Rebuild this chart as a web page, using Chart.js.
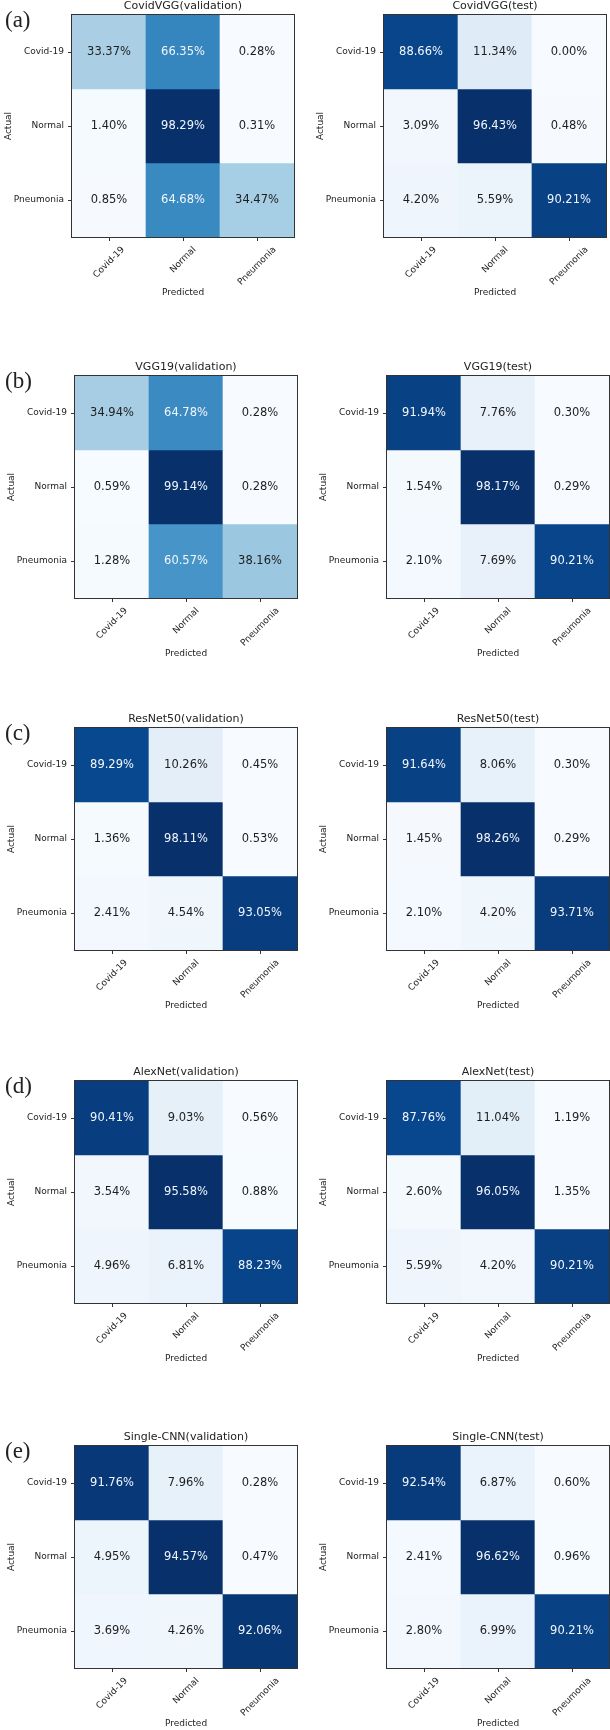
<!DOCTYPE html>
<html>
<head>
<meta charset="utf-8">
<script src="https://cdn.jsdelivr.net/npm/chart.js@4.4.0/dist/chart.umd.min.js"></script>
<style>
  html, body { margin: 0; padding: 0; background: #fff; overflow: hidden; }
  #wrap { position: relative; width: 610px; height: 1730px; }
  canvas { position: absolute; }
</style>
</head>
<body>
<div id="wrap"></div>
<script>
// class labels (actual rows / predicted columns)
const categories = ['Covid-19', 'Normal', 'Pneumonia'];

// confusion matrices in percent, rows = actual, cols = predicted
const covidvggVal  = [[33.37, 66.35, 0.28], [1.40, 98.29, 0.31], [0.85, 64.68, 34.47]];
const covidvggTest = [[88.66, 11.34, 0.00], [3.09, 96.43, 0.48], [4.20, 5.59, 90.21]];
const vgg19Val     = [[34.94, 64.78, 0.28], [0.59, 99.14, 0.28], [1.28, 60.57, 38.16]];
const vgg19Test    = [[91.94, 7.76, 0.30], [1.54, 98.17, 0.29], [2.10, 7.69, 90.21]];
const resnetVal    = [[89.29, 10.26, 0.45], [1.36, 98.11, 0.53], [2.41, 4.54, 93.05]];
const resnetTest   = [[91.64, 8.06, 0.30], [1.45, 98.26, 0.29], [2.10, 4.20, 93.71]];
const alexVal      = [[90.41, 9.03, 0.56], [3.54, 95.58, 0.88], [4.96, 6.81, 88.23]];
const alexTest     = [[87.76, 11.04, 1.19], [2.60, 96.05, 1.35], [5.59, 4.20, 90.21]];
const cnnVal       = [[91.76, 7.96, 0.28], [4.95, 94.57, 0.47], [3.69, 4.26, 92.06]];
const cnnTest      = [[92.54, 6.87, 0.60], [2.41, 96.62, 0.96], [2.80, 6.99, 90.21]];

const panels = [
  { title: 'CovidVGG(validation)', cm: covidvggVal, row: 0, col: 0, letter: '(a)' },
  { title: 'CovidVGG(test)', cm: covidvggTest, row: 0, col: 1 },
  { title: 'VGG19(validation)', cm: vgg19Val, row: 1, col: 0, letter: '(b)' },
  { title: 'VGG19(test)', cm: vgg19Test, row: 1, col: 1 },
  { title: 'ResNet50(validation)', cm: resnetVal, row: 2, col: 0, letter: '(c)' },
  { title: 'ResNet50(test)', cm: resnetTest, row: 2, col: 1 },
  { title: 'AlexNet(validation)', cm: alexVal, row: 3, col: 0, letter: '(d)' },
  { title: 'AlexNet(test)', cm: alexTest, row: 3, col: 1 },
  { title: 'Single-CNN(validation)', cm: cnnVal, row: 4, col: 0, letter: '(e)' },
  { title: 'Single-CNN(test)', cm: cnnTest, row: 4, col: 1 }
];

// layout of the grid of panels
const boxTops = [15, 376, 728, 1081, 1446];
const boxLefts = [[72, 384], [75, 387], [75, 387], [75, 387], [75, 387]];
const BOX = 222, CW = 305, CH = 306;

// matplotlib "Blues"
const bluesStops = [
  [247, 251, 255], [222, 235, 247], [198, 219, 239], [158, 202, 225], [107, 174, 214],
  [66, 146, 198], [33, 113, 181], [8, 81, 156], [8, 48, 107]
];
function blues(t) {
  t = Math.max(0, Math.min(1, t)) * 8;
  const i = Math.min(7, Math.floor(t)), f = t - i;
  const a = bluesStops[i], b = bluesStops[i + 1];
  const c = a.map((v, k) => Math.round(v + (b[k] - v) * f));
  return `rgb(${c[0]},${c[1]},${c[2]})`;
}

const FONT = 'DejaVu Sans';

const cmPlugin = {
  id: 'cm',
  afterDatasetsDraw(chart, args, opts) {
    const ctx = chart.ctx;
    ctx.save();
    ctx.font = `11.5px "${FONT}"`;
    ctx.textAlign = 'center';
    ctx.textBaseline = 'middle';
    chart.data.datasets.forEach((ds, r) => {
      chart.getDatasetMeta(r).data.forEach((bar, c) => {
        const v = ds.pct[c];
        ctx.fillStyle = v >= opts.thresh ? '#f2f6fb' : '#1e1e1e';
        ctx.fillText(v.toFixed(2) + '%', bar.x, (bar.y + bar.base) / 2);
      });
    });
    ctx.restore();
  },
  afterDraw(chart, args, opts) {
    const { ctx, chartArea: a } = chart;
    const x = chart.scales.x;
    ctx.save();
    // frame around the matrix
    ctx.strokeStyle = '#333';
    ctx.lineWidth = 1;
    ctx.strokeRect(a.left - 0.5, a.top - 0.5, a.right - a.left + 1, a.bottom - a.top + 1);
    // rotated x tick labels, centred on the tick like matplotlib
    ctx.font = `9px "${FONT}"`;
    ctx.fillStyle = '#222';
    ctx.textAlign = 'center';
    ctx.textBaseline = 'middle';
    x.ticks.forEach((t, i) => {
      const lab = categories[i];
      const px = x.getPixelForTick(i);
      const d = (ctx.measureText(lab).width + 10.5) / Math.SQRT2;
      ctx.save();
      ctx.translate(px, a.bottom + 7.5 + d / 2);
      ctx.rotate(-Math.PI / 4);
      ctx.fillText(lab, 0, 0);
      ctx.restore();
    });
    if (opts.letter) {
      ctx.font = '23px "Liberation Serif"';
      ctx.textAlign = 'left';
      ctx.fillStyle = '#222';
      ctx.fillText(opts.letter, 5, a.top + 6);
    }
    ctx.restore();
  }
};

const wrap = document.getElementById('wrap');

panels.forEach(p => {
  const left = boxLefts[p.row][p.col] - p.col * CW;
  const cv = document.createElement('canvas');
  cv.width = CW;
  cv.height = CH;
  cv.style.left = (p.col * CW) + 'px';
  cv.style.top = (boxTops[p.row] - 20) + 'px';
  wrap.appendChild(cv);

  const flat = p.cm.flat();
  const lo = Math.min(...flat), hi = Math.max(...flat);

  new Chart(cv, {
    type: 'bar',
    data: {
      labels: categories,
      datasets: p.cm.map((rowVals, r) => ({
        label: categories[r],
        data: rowVals.map(() => 1),
        pct: rowVals,
        backgroundColor: rowVals.map(v => blues((v - lo) / (hi - lo))),
        borderWidth: 0,
        barPercentage: 1,
        categoryPercentage: 1
      }))
    },
    options: {
      responsive: false,
      animation: false,
      layout: { padding: { left: 0, right: CW - left - BOX, top: 0, bottom: 0 } },
      plugins: {
        legend: { display: false },
        tooltip: { enabled: false },
        title: {
          display: true,
          text: p.title,
          fullSize: false,
          color: '#222',
          font: { family: FONT, size: 11, weight: 'normal', lineHeight: 1.2 },
          padding: { top: 4.4, bottom: 2.4 }
        },
        cm: { thresh: (lo + hi) / 2, letter: p.letter }
      },
      scales: {
        x: {
          stacked: true,
          grid: { display: true, drawOnChartArea: false, drawTicks: true, tickLength: 4, offset: false, color: '#333' },
          border: { display: false },
          ticks: { display: false },
          title: {
            display: true, text: 'Predicted', color: '#222',
            font: { family: FONT, size: 9, lineHeight: 1.2 },
            padding: { top: 0, bottom: 2.6 }
          },
          afterFit: s => { s.height = CH - 20 - BOX; }
        },
        y: {
          stacked: true,
          reverse: true,
          min: 0,
          max: 3,
          grid: { display: true, drawOnChartArea: false, drawTicks: true, tickLength: 4, color: '#333' },
          border: { display: false },
          afterBuildTicks: s => { s.ticks = categories.map((c, i) => ({ value: i + 0.5 })); },
          ticks: {
            color: '#222', padding: 4,
            font: { family: FONT, size: 9 },
            callback: (v, i) => categories[i]
          },
          title: {
            display: true, text: 'Actual', color: '#222',
            font: { family: FONT, size: 9, lineHeight: 1.2 },
            padding: { top: left - 63 - 5.4, bottom: 0 }
          },
          afterFit: s => { s.width = left; }
        }
      }
    },
    plugins: [cmPlugin]
  });
});
</script>
</body>
</html>
